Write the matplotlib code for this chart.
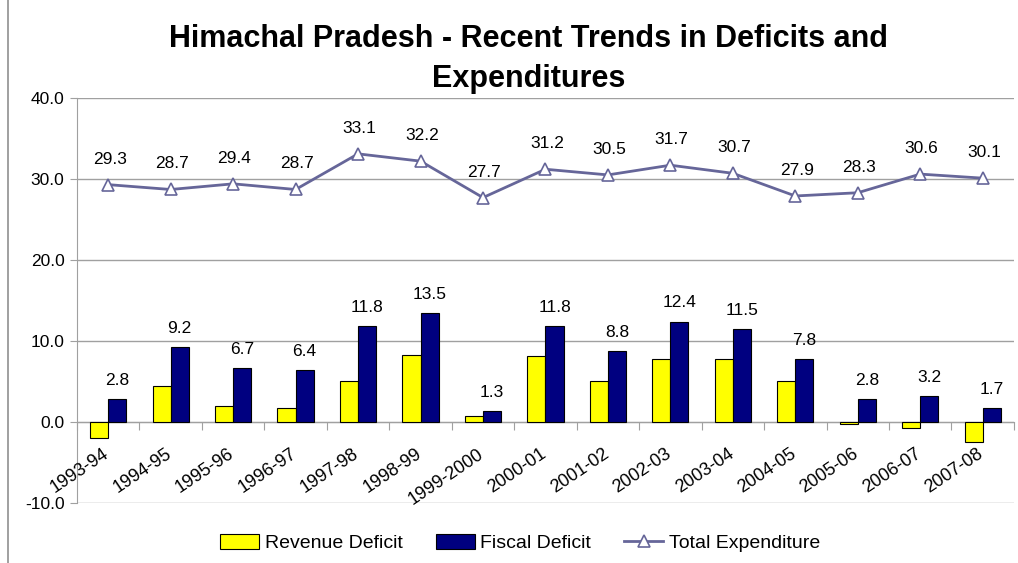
import numpy as np
import matplotlib
matplotlib.use('Agg')
import matplotlib.pyplot as plt
from matplotlib.lines import Line2D

plt.rcParams['font.family'] = ['Liberation Sans', 'DejaVu Sans']

# ── data ────────────────────────────────────────────
years = ["1993-94", "1994-95", "1995-96", "1996-97", "1997-98", "1998-99",
         "1999-2000", "2000-01", "2001-02", "2002-03", "2003-04", "2004-05",
         "2005-06", "2006-07", "2007-08"]
revenue_deficit = [-2.0, 4.5, 2.0, 1.7, 5.1, 8.3, 0.7, 8.2, 5.0, 7.8, 7.8, 5.0, -0.3, -0.7, -2.5]
fiscal_deficit = [2.8, 9.2, 6.7, 6.4, 11.8, 13.5, 1.3, 11.8, 8.8, 12.4, 11.5, 7.8, 2.8, 3.2, 1.7]
total_expenditure = [29.3, 28.7, 29.4, 28.7, 33.1, 32.2, 27.7, 31.2, 30.5, 31.7, 30.7, 27.9, 28.3, 30.6, 30.1]

# ── plot ────────────────────────────────────────────
fig = plt.figure(figsize=(10.18, 5.63), dpi=100)
ax = fig.add_axes([0.0756, 0.1066, 0.9204, 0.7194])

x = np.arange(len(years))
bw = 0.29
grid_c = "#a0a0a0"

b1 = ax.bar(x - bw / 2, revenue_deficit, bw, color="#ffff00", edgecolor="black",
            linewidth=0.8, label="Revenue Deficit", zorder=3)
b2 = ax.bar(x + bw / 2, fiscal_deficit, bw, color="#000080", edgecolor="black",
            linewidth=0.8, label="Fiscal Deficit", zorder=3)
l1, = ax.plot(x, total_expenditure, color="#666699", linewidth=2, marker="^",
              markersize=9, markerfacecolor="white", markeredgecolor="#666699",
              markeredgewidth=1.2, label="Total Expenditure", zorder=4)

for i in x:
    ax.annotate(f"{fiscal_deficit[i]:.1f}", (i + bw / 2, fiscal_deficit[i]),
                xytext=(0, 8), textcoords="offset points", ha="center",
                va="bottom", fontsize=12.5)
    ax.annotate(f"{total_expenditure[i]:.1f}", (i, total_expenditure[i]),
                xytext=(1, 13), textcoords="offset points", ha="center",
                va="bottom", fontsize=12.5)
    ax.annotate(years[i], (i, 0), xytext=(-4, -17), textcoords="offset points",
                ha="right", va="top", rotation=34, rotation_mode="anchor",
                fontsize=13)

ax.set_xlim(-0.5, len(years) - 0.5)
ax.set_ylim(-10, 40)
ax.set_yticks(np.arange(-10, 41, 10))
ax.set_yticklabels([f"{v:.1f}" for v in np.arange(-10, 41, 10)], fontsize=12.5)
ax.yaxis.grid(True, color=grid_c, linewidth=1)
ax.set_axisbelow(True)

ax.set_xticks(np.arange(-0.5, len(years), 1.0))
ax.set_xticklabels([])
ax.spines['bottom'].set_position(('data', 0))
ax.spines['bottom'].set_color(grid_c)
ax.spines['left'].set_color(grid_c)
ax.spines['top'].set_visible(False)
ax.spines['right'].set_visible(False)
ax.tick_params(axis='x', direction='out', length=6, color=grid_c)
ax.tick_params(axis='y', direction='out', length=5, color=grid_c, pad=4)

fig.suptitle("Himachal Pradesh - Recent Trends in Deficits and\nExpenditures",
             fontsize=22, fontweight="bold", x=0.519, y=0.958, linespacing=1.45)

fig.legend([b1, b2, l1], ["Revenue Deficit", "Fiscal Deficit", "Total Expenditure"],
           loc="center", bbox_to_anchor=(0.511, 0.035), ncol=3, frameon=False,
           fontsize=14, handlelength=2.0, handleheight=0.75, columnspacing=1.7,
           handletextpad=0.3)

fig.add_artist(Line2D([0.008, 0.008], [0, 1], transform=fig.transFigure,
                      color="#909090", linewidth=1.2))

plt.savefig("out.png", dpi=100)
